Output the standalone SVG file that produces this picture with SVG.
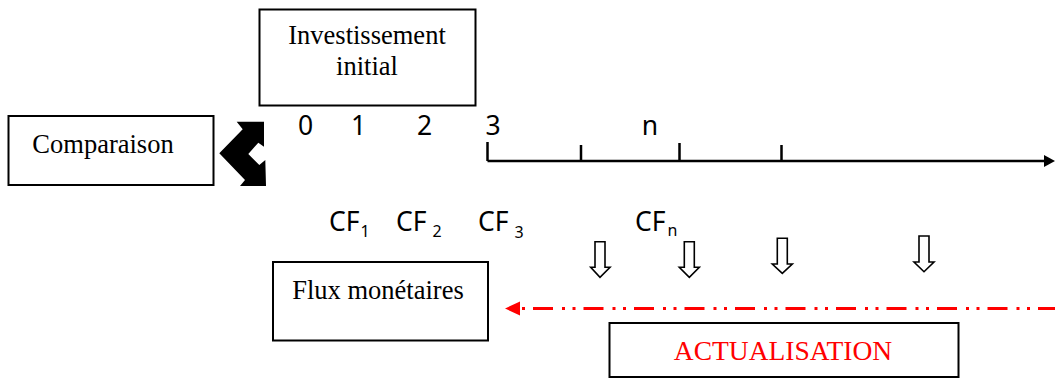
<svg xmlns="http://www.w3.org/2000/svg" width="1055" height="378" viewBox="0 0 1055 378">
<style>
.box{fill:#fff;stroke:#000;stroke-width:2}
.lbl{font-family:"Liberation Serif","Times New Roman",serif;font-size:26.5px;fill:#000;text-anchor:middle}
.num{font-family:"Noto Sans","Open Sans",sans-serif;font-size:26.5px;fill:#000}
.sub{font-size:16px}
.hol{fill:#fff;stroke:#000;stroke-width:1.6;stroke-linejoin:miter}
.axis{stroke:#000;stroke-width:2.5;fill:none}
</style>
<rect width="1055" height="378" fill="#fff"/>
<g id="investissement">
<rect class="box" x="259.5" y="9.5" width="216" height="96"/>
<text class="lbl" x="367" y="44">Investissement</text>
<text class="lbl" x="367" y="75">initial</text>
</g>
<g id="comparaison">
<rect class="box" x="8.5" y="116" width="205" height="69"/>
<text class="lbl" x="103" y="153">Comparaison</text>
</g>
<g id="flux">
<rect class="box" x="273" y="262" width="215" height="78.5"/>
<text class="lbl" x="378" y="299">Flux monétaires</text>
</g>
<g id="actualisation">
<rect class="box" x="609.5" y="323" width="349" height="54"/>
<text class="lbl" x="783" y="360" style="fill:#ff0000;font-size:27.5px">ACTUALISATION</text>
</g>
<g id="timeline-labels">
<text class="num" x="305.5" y="135" text-anchor="middle">0</text>
<text class="num" x="358.5" y="135" text-anchor="middle">1</text>
<text class="num" x="424.5" y="135" text-anchor="middle">2</text>
<text class="num" x="493" y="135" text-anchor="middle">3</text>
<text class="num" x="650" y="135" text-anchor="middle">n</text>
<text class="num" x="329" y="231">CF<tspan class="sub" x="360.5" y="236.5">1</tspan></text>
<text class="num" x="396" y="231">CF<tspan class="sub" x="432.5" y="237">2</tspan></text>
<text class="num" x="478" y="231">CF<tspan class="sub" x="514.5" y="237.5">3</tspan></text>
<text class="num" x="635" y="231">CF<tspan class="sub" x="667.5" y="236">n</tspan></text>
</g>
<g id="connectors">
<polygon fill="#000" points="236.7,121.7 264,121.7 264,146.7 258.3,142.7 248.3,154 259.3,165 265.3,160 266,186 240,186 245,180 219.3,153.3 242.7,129.3"/>
<path class="axis" d="M487.5,161 H1046 M487.5,142 V161 M581,145 V161 M679.5,143 V161 M781.5,145 V161"/>
<polygon fill="#000" points="1044,155 1055,161 1044,167"/>
<polygon class="hol" points="595,241.7 605,241.7 605,267.3 610,267.3 600,277.3 590.7,267.3 595,267.3"/>
<polygon class="hol" points="684.3,241.7 694.3,241.7 694.3,267.3 699.3,267.3 689.3,277.3 679.3,267.3 684.3,267.3"/>
<polygon class="hol" points="777.3,238.3 787.3,238.3 787.3,264 792.3,264 782.3,273.3 772.3,264 777.3,264"/>
<polygon class="hol" points="919,236 929,236 929,262 934,262 924,271.7 914,262 919,262"/>
<line x1="522" y1="308.5" x2="1055" y2="308.5" stroke="#ff0000" stroke-width="3" stroke-dasharray="3 8 20 9 3 7.5"/>
<polygon fill="#ff0000" points="505,308.5 520,301.5 520,315.5"/>
</g>
</svg>
